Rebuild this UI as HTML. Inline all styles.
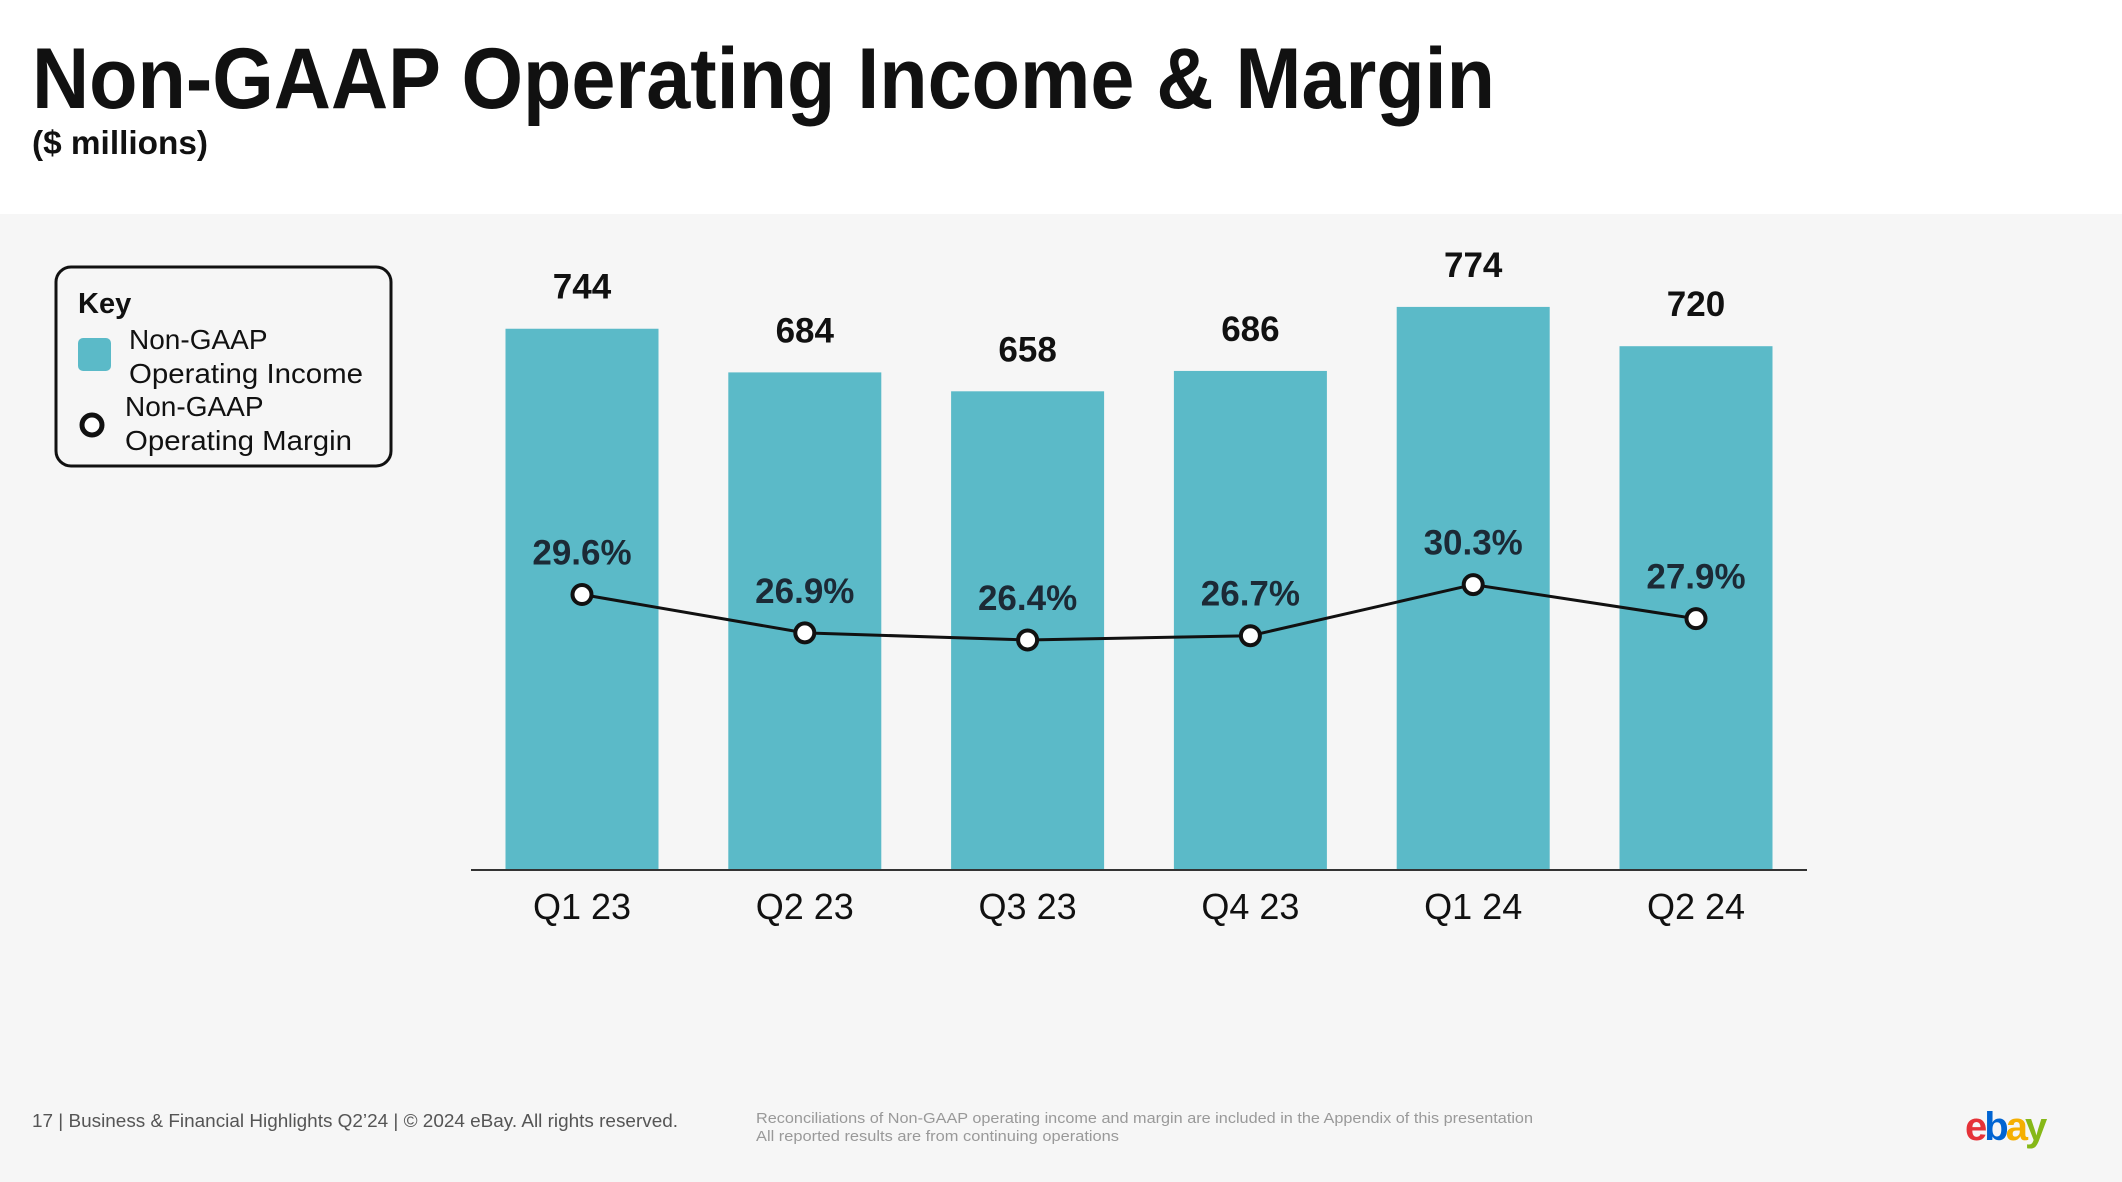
<!DOCTYPE html>
<html><head><meta charset="utf-8"><style>
html,body{margin:0;padding:0;background:#fff;}
svg{display:block;font-family:"Liberation Sans",sans-serif;}
</style></head><body>
<svg id="c" width="2122" height="1182" viewBox="0 0 2122 1182" xmlns="http://www.w3.org/2000/svg">
<rect x="0" y="0" width="2122" height="214" fill="#ffffff"/>
<rect x="0" y="214" width="2122" height="968" fill="#f6f6f6"/>
<text x="32" y="108" font-size="86" font-weight="bold" fill="#111" textLength="1463" lengthAdjust="spacingAndGlyphs">Non-GAAP Operating Income &amp; Margin</text>
<text x="32" y="154" font-size="33" font-weight="bold" fill="#111" textLength="176" lengthAdjust="spacingAndGlyphs">($ millions)</text>
<g>
<rect x="56" y="267" width="335" height="199" rx="15" fill="none" stroke="#111" stroke-width="3"/>
<text x="78" y="313" font-size="29" font-weight="bold" fill="#111">Key</text>
<rect x="78" y="338" width="33" height="33" rx="5" fill="#5bbac8"/>
<text x="129" y="349" font-size="28" fill="#111">Non-GAAP</text>
<text x="129" y="383" font-size="28" fill="#111" textLength="234" lengthAdjust="spacingAndGlyphs">Operating Income</text>
<circle cx="92" cy="425" r="10" fill="#fff" stroke="#111" stroke-width="5"/>
<text x="125" y="416" font-size="28" fill="#111">Non-GAAP</text>
<text x="125" y="450" font-size="28" fill="#111" textLength="227" lengthAdjust="spacingAndGlyphs">Operating Margin</text>
</g>
<g id="plot"></g>
<text x="32" y="1127" font-size="18" fill="#555" textLength="646" lengthAdjust="spacingAndGlyphs">17 | Business &amp; Financial Highlights Q2’24 | © 2024 eBay. All rights reserved.</text>
<text x="756" y="1123" font-size="15" fill="#999" textLength="777" lengthAdjust="spacingAndGlyphs">Reconciliations of Non-GAAP operating income and margin are included in the Appendix of this presentation</text>
<text x="756" y="1141" font-size="15" fill="#999" textLength="363" lengthAdjust="spacingAndGlyphs">All reported results are from continuing operations</text>
<text x="1965" y="1140" font-size="40" font-weight="bold" letter-spacing="-3"><tspan fill="#e53238">e</tspan><tspan fill="#0064d2">b</tspan><tspan fill="#f5af02">a</tspan><tspan fill="#86b817">y</tspan></text>
</svg>
<script>
const categories = ["Q1 23","Q2 23","Q3 23","Q4 23","Q1 24","Q2 24"];
const incomeValues = [744,684,658,686,774,720];
const marginValues = [29.6,26.9,26.4,26.7,30.3,27.9];
const incomeLabels = ["744","684","658","686","774","720"];
const marginLabels = ["29.6%","26.9%","26.4%","26.7%","30.3%","27.9%"];

const NS = "http://www.w3.org/2000/svg";
const plot = document.getElementById("plot");
const baseY = 870, firstX = 582, step = 222.8, barW = 153;
function xPos(i){ return firstX + i*step; }
function yBar(v){ return baseY - v*0.7275; }
function yMargin(p){ return 584.6 + (30.3 - p)*14.2; }
function mk(tag, attrs){ const e=document.createElementNS(NS,tag); for(const k in attrs) e.setAttribute(k,attrs[k]); plot.appendChild(e); return e; }

categories.forEach((c,i)=>{
  const v = incomeValues[i];
  const b = mk("rect",{x:xPos(i)-barW/2,y:yBar(v),width:barW,height:baseY-yBar(v),fill:"#5bbac8"});
  
  
  const t = mk("text",{x:xPos(i),y:yBar(v)-30,"text-anchor":"middle","font-size":"35","font-weight":"bold",fill:"#111"});
  t.textContent = incomeLabels[i];
  
  
  const xl = mk("text",{x:xPos(i),y:919,"text-anchor":"middle","font-size":"36",fill:"#111"});
  xl.textContent = c;
  
  
});
const ax = mk("line",{x1:471,y1:870,x2:1807,y2:870,stroke:"#333","stroke-width":2});


const pts = marginValues.map((p,i)=>xPos(i)+","+yMargin(p)).join(" ");
const line = mk("polyline",{points:pts,fill:"none",stroke:"#111","stroke-width":3});


marginValues.forEach((p,i)=>{
  const c = mk("circle",{cx:xPos(i),cy:yMargin(p),r:9.5,fill:"#fff",stroke:"#111","stroke-width":4});
  
  
  const t = mk("text",{x:xPos(i),y:yMargin(p)-30,"text-anchor":"middle","font-size":"35","font-weight":"bold",fill:"#1c2a36"});
  t.textContent = marginLabels[i];
  
  
});
</script>
</body></html>
